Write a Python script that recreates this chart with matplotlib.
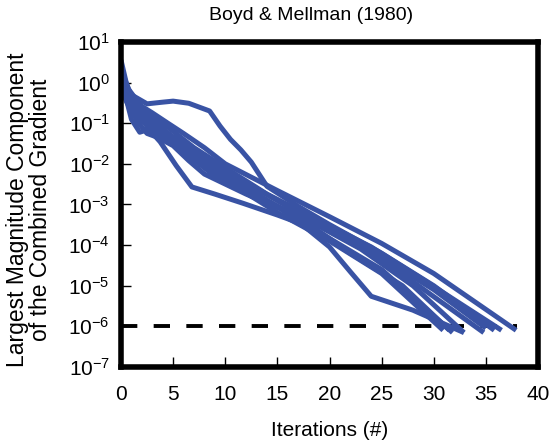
import matplotlib
matplotlib.use('Agg')
import matplotlib.pyplot as plt
import numpy as np

plt.rcParams['font.family'] = ['Liberation Sans', 'DejaVu Sans']
plt.rcParams['mathtext.fontset'] = 'custom'
plt.rcParams['mathtext.rm'] = 'Liberation Sans'

# iteration numbers and largest gradient component for each run
run1_x = [0, 1, 2.5, 4, 5, 6.5, 8.5, 9.5, 10.5, 11.5, 12.5, 14, 17, 20, 25, 30, 35.8]
run1_y = [1.3, 0.5, 0.3, 0.33, 0.35, 0.31, 0.2, 0.085, 0.04, 0.022, 0.011, 2.8e-3, 9e-4, 3.2e-4, 6.3e-5, 1.0e-5, 8e-7]
run2_x = [0, 0.5, 1, 2, 3, 4.5, 6, 8, 10, 15, 20, 25, 30, 37.9]
run2_y = [3.6, 1.0, 0.45, 0.26, 0.18, 0.1, 0.056, 0.025, 1.0e-2, 2.2e-3, 5e-4, 1.1e-4, 2.0e-5, 8e-7]
run3_x = [0, 0.5, 1, 1.8, 2.6, 3.5, 5, 7.5, 10, 12.5, 15, 17.5, 20, 22, 24, 28, 32.9]
run3_y = [1.6, 0.4, 0.125, 0.06, 0.07, 0.055, 0.032, 0.013, 5e-3, 2.2e-3, 9e-4, 3e-4, 9e-5, 2.2e-5, 5.5e-6, 2.5e-6, 7e-7]
run4_x = [0, 0.5, 1.5, 2.7, 3.75, 5.3, 6.8, 9, 11.7, 15, 18.2, 25, 31.8]
run4_y = [2.0, 0.7, 0.2, 0.07, 0.035, 9e-3, 2.7e-3, 1.8e-3, 1.07e-3, 5.5e-4, 2.75e-4, 2.5e-5, 7e-7]
run5_x = [0, 0.5, 1, 2, 3, 4.5, 6, 8, 10, 15, 20, 25, 30, 35]
run5_y = [1.0, 0.5, 0.32, 0.17, 0.1, 0.055, 0.032, 0.014, 6.3e-3, 1.26e-3, 2.5e-4, 5e-5, 8e-6, 9e-7]
run6_x = [0, 0.5, 1, 2.5, 4, 5.5, 7, 10, 15, 20, 25, 30.9]
run6_y = [1.4, 0.5, 0.25, 0.12, 0.063, 0.032, 0.016, 4e-3, 6.3e-4, 1.26e-4, 2e-5, 8e-7]
run7_x = [0, 0.5, 1.2, 2, 3, 4.5, 6, 9, 13, 18, 23, 28, 32.9]
run7_y = [0.8, 0.35, 0.16, 0.11, 0.08, 0.04, 0.02, 5e-3, 1.6e-3, 4e-4, 8e-5, 1.0e-5, 7e-7]
run8_x = [0, 0.5, 1, 2, 3, 5, 8, 12, 16, 22, 28, 34.8]
run8_y = [1.8, 0.7, 0.35, 0.2, 0.125, 0.045, 1.1e-2, 3.5e-3, 9e-4, 1.26e-4, 1.26e-5, 7e-7]
run9_x = [0, 0.5, 1, 1.7, 2.5, 3.5, 5, 6.5, 8, 12, 17, 22, 27, 31.5]
run9_y = [1.1, 0.45, 0.2, 0.1, 0.056, 0.045, 0.028, 0.012, 5.6e-3, 1.8e-3, 5e-4, 6.3e-5, 1.0e-5, 8e-7]
run10_x = [0, 0.7, 2, 3, 4.5, 7, 10, 14, 19, 24, 29, 36.5]
run10_y = [2.2, 0.7, 0.25, 0.15, 0.08, 0.025, 8e-3, 1.8e-3, 4e-4, 9e-5, 1.4e-5, 8e-7]

runs = [(run1_x, run1_y), (run2_x, run2_y), (run3_x, run3_y), (run4_x, run4_y),
        (run5_x, run5_y), (run6_x, run6_y), (run7_x, run7_y), (run8_x, run8_y),
        (run9_x, run9_y), (run10_x, run10_y)]

tol_x = [0, 38]
tol_y = [1e-6, 1e-6]

fig = plt.figure(figsize=(5.49, 4.40), dpi=100)
ax = fig.add_axes([0.2204, 0.166, 0.7596, 0.7386])

ax.plot(tol_x, tol_y, color='black', lw=2.8, dashes=(4.2, 4.2), zorder=1)
for xs, ys in runs:
    ax.plot(xs, ys, color='#3953a4', lw=3.6, solid_joinstyle='round', solid_capstyle='butt', zorder=2)

ax.set_yscale('log')
ax.set_xlim(0, 40)
ax.set_ylim(1e-7, 1e1)
ax.set_xticks(np.arange(0, 41, 5))
ax.set_yticks([10.0 ** e for e in range(-7, 2)])
ax.minorticks_off()
ax.tick_params(direction='in', length=7, width=1, labelsize=15)
ax.tick_params(axis='x', pad=13)
ax.tick_params(axis='y', pad=8)

for spine in ax.spines.values():
    spine.set_linewidth(4)

ax.set_title('Boyd & Mellman (1980)', fontsize=14, pad=16, x=0.456)
ax.set_xlabel('Iterations (#)', fontsize=15, labelpad=12)
ax.set_ylabel('Largest Magnitude Component\nof the Combined Gradient', fontsize=16.5,
              linespacing=1.0)
ax.yaxis.label.set_va('center')
ax.yaxis.set_label_coords(-0.22, 0.483)

plt.savefig('out.png', dpi=100)
